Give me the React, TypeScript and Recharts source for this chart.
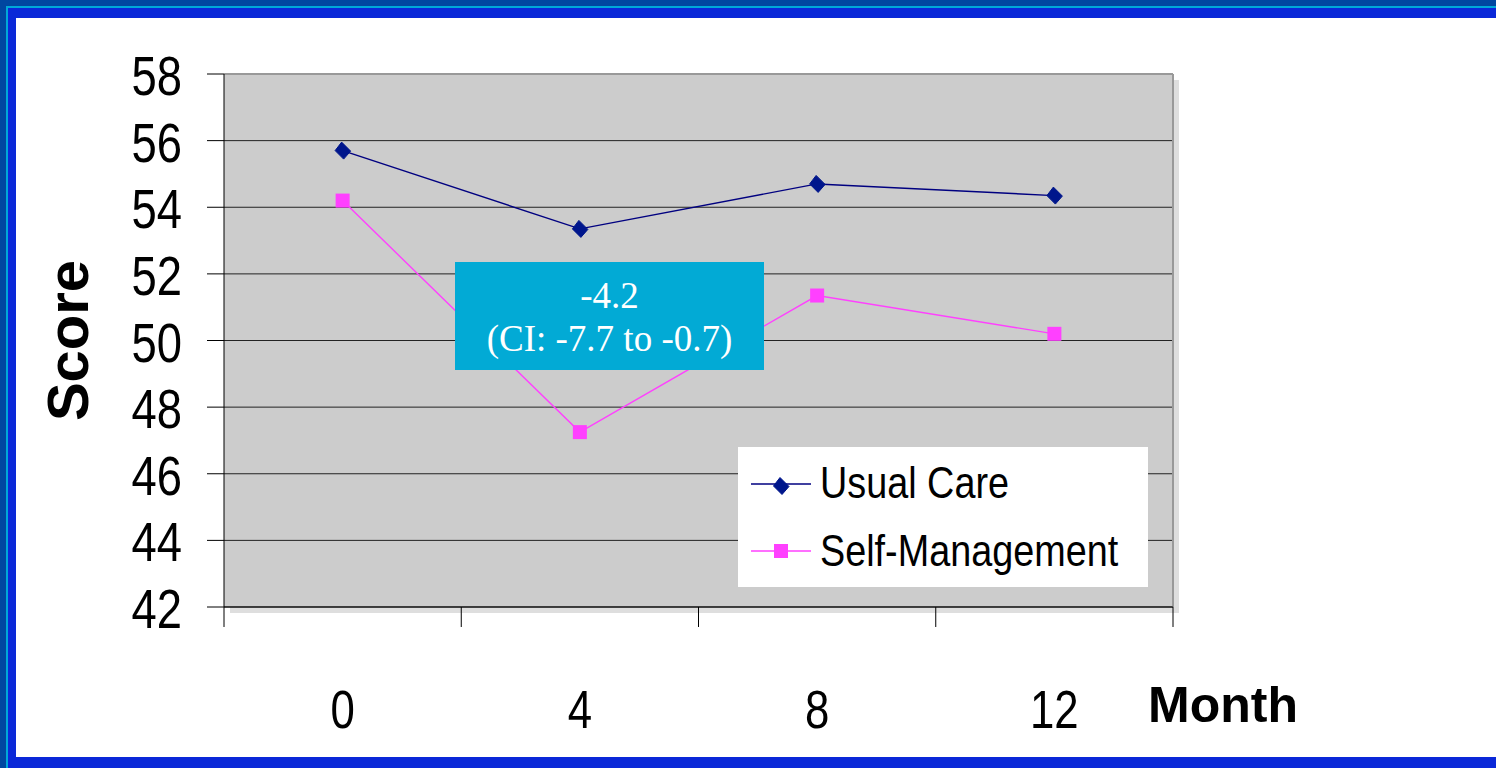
import { LineChart, Line, XAxis, YAxis, CartesianGrid, ReferenceLine, Legend } from "recharts";

const months = [0, 4, 8, 12];
const usualCare = [55.7, 53.35, 54.7, 54.35];
const selfManagement = [54.2, 47.25, 51.35, 50.2];
const yTicks = [42, 44, 46, 48, 50, 52, 54, 56, 58];
const monthBounds = [-2, 2, 6, 10, 14];

const data = months.map((m, i) => ({
  month: m,
  usual: usualCare[i],
  self: selfManagement[i],
}));

const SANS = "'Liberation Sans', Arial, sans-serif";
const NAVY = "#000080";
const NAVY_DOT = "#00168C";
const PINK = "#FF40FF";
const SQUEEZE = 0.81; // the original uses a narrow face

const Narrow = ({ x, y, size, anchor, squeeze = SQUEEZE, children }: any) => (
  <text
    transform={`translate(${x},${y}) scale(${squeeze},1)`}
    textAnchor={anchor}
    fontFamily={SANS}
    fontSize={size}
    fill="#000"
  >
    {children}
  </text>
);

const Diamond = ({ cx, cy }: any) => {
  if (cx == null || cy == null) return null;
  return (
    <polygon
      points={`${cx - 1},${cy - 8.5} ${cx + 8},${cy + 0.5} ${cx + 1},${cy + 8.5} ${cx - 7.5},${cy}`}
      fill={NAVY_DOT}
      stroke={NAVY_DOT}
    />
  );
};

const Square = ({ cx, cy }: any) => {
  if (cx == null || cy == null) return null;
  return <rect x={cx - 7} y={cy - 7} width={14} height={14} fill={PINK} />;
};

const YTick = ({ x, y, payload }: any) => (
  <Narrow x={x} y={y + 21} size={56} anchor="end">
    {payload.value}
  </Narrow>
);

const XTick = ({ x, y, payload }: any) => (
  <Narrow x={x} y={y + 121} size={54} anchor="middle">
    {payload.value}
  </Narrow>
);

const LegendBox = () => (
  <svg width={410} height={140} style={{ display: "block" }}>
    <rect x={0} y={0} width={410} height={140} fill="#fff" />
    <line x1={13} x2={73} y1={37} y2={37} stroke={NAVY} strokeWidth={1.5} />
    <Diamond cx={43} cy={39} />
    <Narrow x={82} y={51} size={45} anchor="start" squeeze={0.84}>Usual Care</Narrow>
    <line x1={13} x2={73} y1={104} y2={104} stroke={PINK} strokeWidth={1.5} />
    <Square cx={43} cy={104} />
    <Narrow x={82} y={119} size={45} anchor="start" squeeze={0.84}>Self-Management</Narrow>
  </svg>
);

export default function App() {
  return (
    <div style={{ position: "absolute", left: 0, top: 0, width: 1496, height: 768, background: "#fff", overflow: "hidden" }}>
      {/* slide frame */}
      <div style={{ position: "absolute", left: 0, top: 0, width: 1496, height: 18, background: "#0A28D8" }} />
      <div style={{ position: "absolute", left: 0, top: 0, width: 16, height: 768, background: "#0A28D8" }} />
      <div style={{ position: "absolute", left: 0, top: 757, width: 1496, height: 11, background: "#0A28D8" }} />
      <div style={{ position: "absolute", left: 6, top: 6, width: 1490, height: 2, background: "#00A8D8" }} />
      <div style={{ position: "absolute", left: 6, top: 6, width: 2, height: 762, background: "#00A8D8" }} />
      <div style={{ position: "absolute", left: 0, top: 0, width: 1496, height: 6, background: "#0047A0" }} />
      <div style={{ position: "absolute", left: 0, top: 0, width: 6, height: 768, background: "#0047A0" }} />

      {/* plot area shadow */}
      <div style={{ position: "absolute", left: 230, top: 80, width: 949, height: 533, background: "#DEDEDE" }} />

      <div style={{ position: "absolute", left: 0, top: 0 }}>
        <LineChart width={1496} height={768} data={data} margin={{ top: 74, right: 323, bottom: 31, left: 114 }}>
          <CartesianGrid vertical={false} fill="#CCCCCC" stroke="#222" strokeOpacity={1} />
          <XAxis
            type="number"
            dataKey="month"
            domain={[-2, 14]}
            ticks={months}
            tickLine={false}
            axisLine={{ stroke: "#000" }}
            tick={<XTick />}
            tickSize={0}
            tickMargin={0}
            height={130}
            interval={0}
            label={{
              content: ({ viewBox }: any) => (
                <text
                  x={viewBox.x + viewBox.width - 25}
                  y={viewBox.y + 115}
                  fontFamily={SANS}
                  fontWeight="bold"
                  fontSize={50}
                  fill="#000"
                >
                  Month
                </text>
              ),
            }}
          />
          <YAxis
            domain={[42, 58]}
            ticks={yTicks}
            interval={0}
            width={110}
            tickSize={17}
            tickMargin={25}
            tickLine={{ stroke: "#000" }}
            axisLine={{ stroke: "#000" }}
            tick={<YTick />}
            label={{
              content: ({ viewBox }: any) => {
                const x = viewBox.x - 47;
                const y = viewBox.y + viewBox.height / 2;
                return (
                  <text
                    x={x}
                    y={y}
                    transform={`rotate(-90 ${x} ${y})`}
                    textAnchor="middle"
                    dominantBaseline="central"
                    fontFamily={SANS}
                    fontWeight="bold"
                    fontSize={58}
                    fill="#000"
                  >
                    Score
                  </text>
                );
              },
            }}
          />
          <ReferenceLine y={58} stroke="#999" strokeWidth={2} />
          <ReferenceLine x={14} stroke="#999" strokeWidth={2} />
          {monthBounds.map((b) => (
            <ReferenceLine
              key={b}
              segment={[{ x: b, y: 42 }, { x: b, y: 41.4 }]}
              stroke="#000"
              ifOverflow="visible"
            />
          ))}
          <Line
            dataKey="usual"
            name="Usual Care"
            stroke={NAVY}
            strokeWidth={1.4}
            dot={<Diamond />}
            activeDot={false}
            isAnimationActive={false}
          />
          <Line
            dataKey="self"
            name="Self-Management"
            stroke={PINK}
            strokeWidth={1.4}
            dot={<Square />}
            activeDot={false}
            isAnimationActive={false}
          />
          <Legend
            layout="vertical"
            align="center"
            verticalAlign="middle"
            content={<LegendBox />}
            wrapperStyle={{ position: "absolute", left: 738, top: 447, width: 410, height: 140 }}
          />
        </LineChart>
      </div>

      {/* difference annotation */}
      <div
        style={{
          position: "absolute",
          left: 455,
          top: 262,
          width: 309,
          height: 108,
          background: "#02AAD5",
          color: "#fff",
          fontFamily: "'Liberation Serif', 'Times New Roman', serif",
          fontSize: 37,
          lineHeight: "43px",
          textAlign: "center",
          paddingTop: 12,
          boxSizing: "border-box",
        }}
      >
        <div>-4.2</div>
        <div>(CI: -7.7 to -0.7)</div>
      </div>
    </div>
  );
}
